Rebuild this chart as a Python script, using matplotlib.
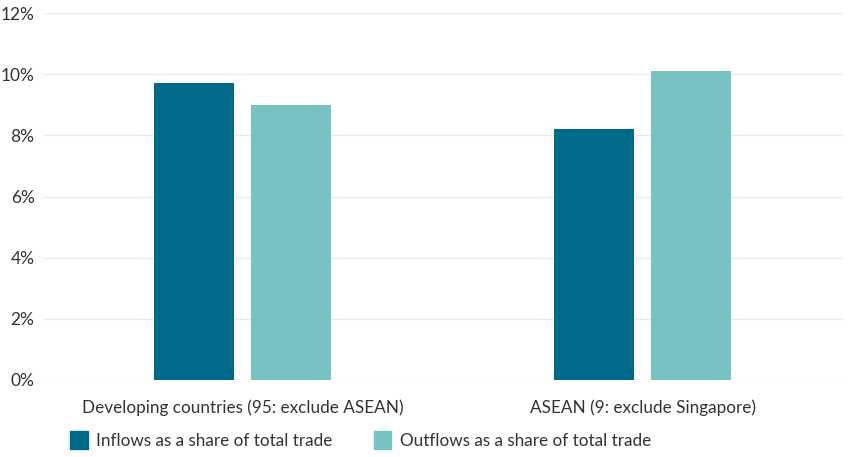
import matplotlib.pyplot as plt
from matplotlib.patches import Patch
import numpy as np

categories = ["Developing countries (95: exclude ASEAN)", "ASEAN (9: exclude Singapore)"]
inflows = [9.7, 8.2]
outflows = [9.0, 10.1]
series_labels = ["Inflows as a share of total trade", "Outflows as a share of total trade"]
yticks = [0, 2, 4, 6, 8, 10, 12]

dark = "#006b88"
light = "#76c3c2"
text_col = "#333333"

plt.rcParams["font.family"] = ["Lato", "DejaVu Sans"]

fig = plt.figure(figsize=(8.62, 4.57), dpi=100)
ax = fig.add_axes([0.0497, 0.1685, 0.928, 0.803])

x = np.arange(len(categories))
w = 0.2
off = 0.121
ax.bar(x - off, inflows, w, color=dark, zorder=3)
ax.bar(x + off, outflows, w, color=light, zorder=3)

ax.set_xlim(-0.5, 1.5)
ax.set_ylim(0, 12)
ax.set_yticks(yticks)
ax.set_yticklabels([f"{t}%" for t in yticks], fontsize=12.5, color=text_col)
ax.set_xticks(x)
ax.set_xticklabels(categories, fontsize=12.3, color=text_col)
ax.tick_params(axis="both", length=0)
ax.tick_params(axis="x", pad=14)
ax.tick_params(axis="y", pad=6)
ax.grid(axis="y", color="#ececec", linewidth=1, zorder=0)
for s in ax.spines.values():
    s.set_visible(False)

handles = [Patch(color=dark), Patch(color=light)]
fig.legend(handles, series_labels, loc="center left", bbox_to_anchor=(0.063, 0.037),
           ncol=2, frameon=False, fontsize=12.3, labelcolor=text_col,
           handlelength=1.05, handleheight=1.3, handletextpad=0.5, columnspacing=2.4)

fig.savefig("out.png", dpi=100)
